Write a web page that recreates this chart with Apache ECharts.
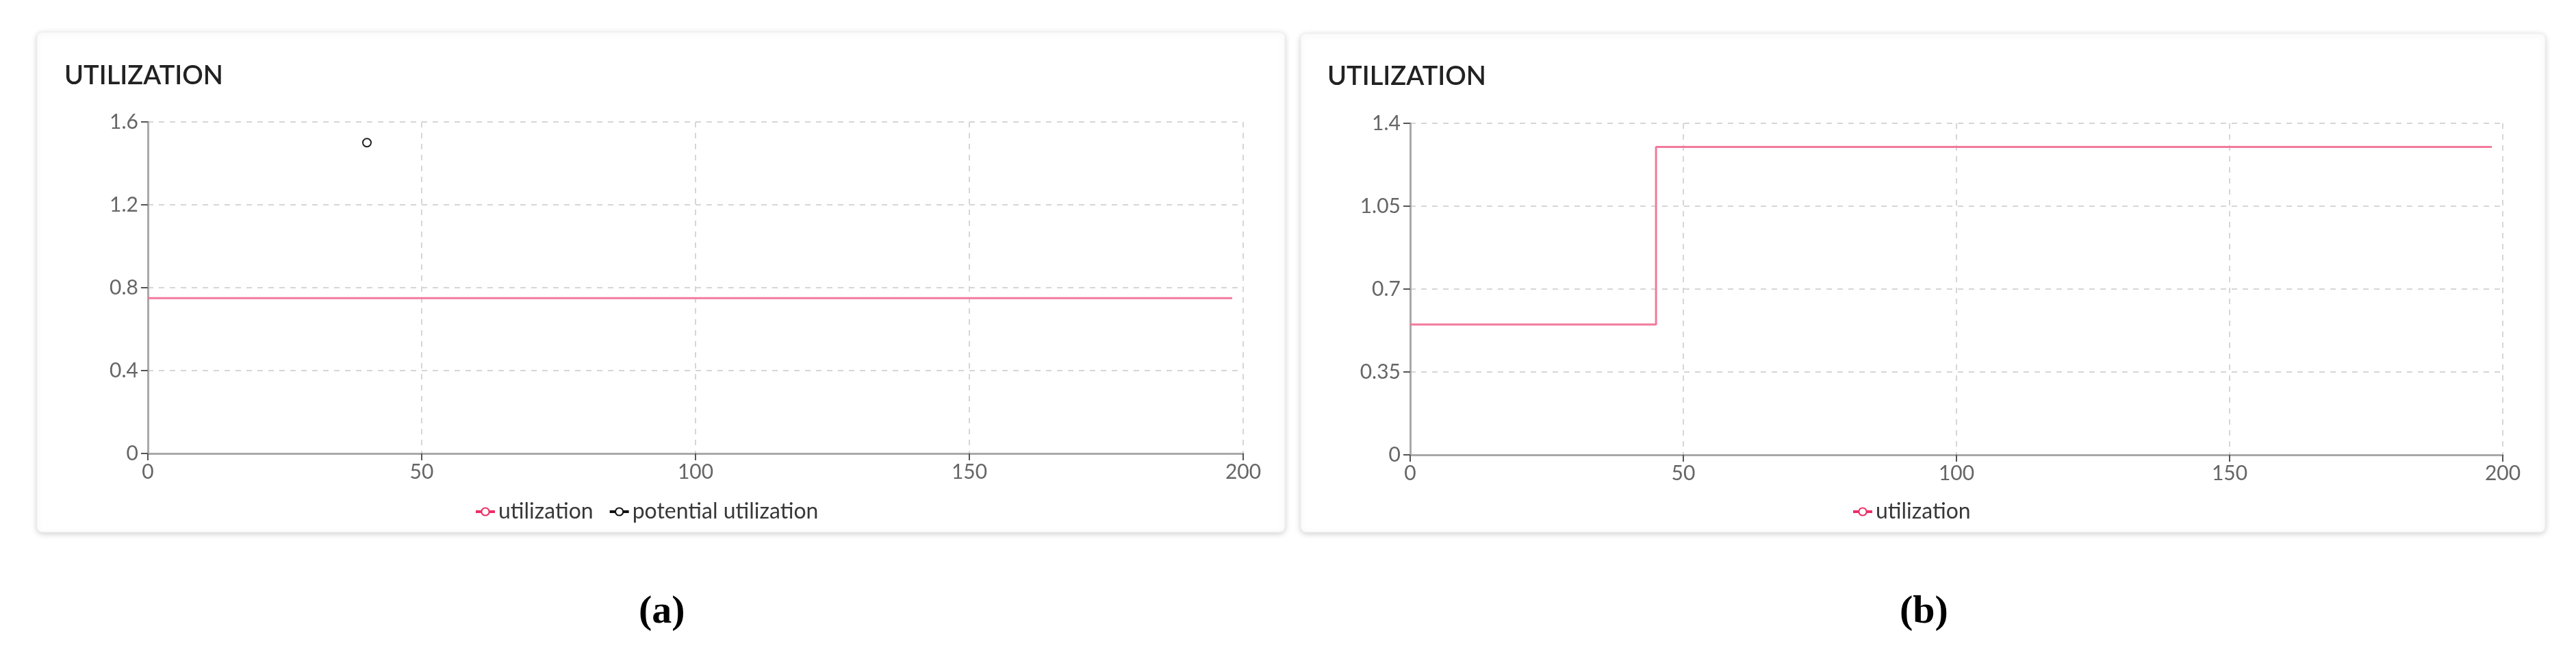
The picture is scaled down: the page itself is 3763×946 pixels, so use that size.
<!DOCTYPE html>
<html>
<head>
<meta charset="utf-8">
<script src="https://cdn.jsdelivr.net/npm/echarts@6/dist/echarts.min.js"></script>
<style>
html,body{margin:0;padding:0;background:#fff;}
#main{width:3763px;height:946px;}
</style>
</head>
<body>
<div id="main"></div>
<script>
// ---- data ----
const titles = ['UTILIZATION', 'UTILIZATION'];
const captions = ['a', 'b'];
const xTicks = [0, 50, 100, 150, 200];
const yTicksA = [0, 0.4, 0.8, 1.2, 1.6];
const yTicksB = [0, 0.35, 0.7, 1.05, 1.4];
// chart (a)
const utilA = [[0, 0.75], [198, 0.75]];
const potentialA = [[40, 1.5]];
// chart (b)
const utilB = [[0, 0.55], [45, 1.3], [198, 1.3]];

const PINK = '#ec2f66';
const LINE_PINK = '#f27a9c';
const FONT = 'Lato';
const chart = echarts.init(document.getElementById('main'), null, {renderer: 'canvas'});

function xAxis(gi) {
  return {
    type: 'value', gridIndex: gi, min: xTicks[0], max: xTicks[xTicks.length - 1], interval: 50,
    axisLine: {lineStyle: {color: '#a9a9a9', width: 3}},
    axisTick: {length: 10, lineStyle: {color: '#555', width: 2}},
    axisLabel: {color: '#666', fontFamily: FONT, fontSize: 30, margin: 12},
    splitLine: {show: true, lineStyle: {color: '#d6d6d6', type: [8, 8], width: 2}}
  };
}
function yAxis(gi, ticks) {
  return {
    type: 'value', gridIndex: gi, min: ticks[0], max: ticks[ticks.length - 1],
    interval: ticks[1] - ticks[0],
    axisLine: {show: true, lineStyle: {color: '#a9a9a9', width: 3}},
    axisTick: {show: true, length: 10, lineStyle: {color: '#555', width: 2}},
    axisLabel: {color: '#666', fontFamily: FONT, fontSize: 30, margin: 14},
    splitLine: {show: true, lineStyle: {color: '#d6d6d6', type: [8, 8], width: 2}}
  };
}
function card(x, y, w, h) {
  return {
    type: 'rect', z: -10, shape: {x: x, y: y, width: w, height: h, r: 8},
    style: {fill: '#fff', stroke: '#efefef', lineWidth: 1, shadowBlur: 8, shadowOffsetY: 2, shadowColor: 'rgba(0,0,0,0.18)'}
  };
}
const capRich = {
  p: {fontFamily: 'Liberation Serif', fontSize: 58, color: '#000'},
  b: {fontFamily: 'Liberation Serif', fontSize: 58, fontWeight: 'bold', color: '#000'}
};
const legendText = {fontFamily: FONT, fontSize: 32, color: '#383838'};
const pinkLegend = {itemStyle: {color: PINK, borderColor: PINK, borderWidth: 3}, lineStyle: {color: PINK, width: 4}};
const blackLegend = {itemStyle: {color: '#111', borderColor: '#111', borderWidth: 3}, lineStyle: {color: '#111', width: 4}};

chart.setOption({
  animation: false,
  backgroundColor: '#fff',
  graphic: [card(54, 47, 1823, 730), card(1900, 49, 1818, 728)],
  title: [
    {text: titles[0], left: 89, top: 87, textStyle: {fontFamily: FONT, fontSize: 38, fontWeight: 600, color: '#222'}},
    {text: titles[1], left: 1934, top: 88, textStyle: {fontFamily: FONT, fontSize: 38, fontWeight: 600, color: '#222'}},
    {text: '{p|(}{b|' + captions[0] + '}{p|)}', left: 928, top: 860, textStyle: {rich: capRich}},
    {text: '{p|(}{b|' + captions[1] + '}{p|)}', left: 2770, top: 860, textStyle: {rich: capRich}}
  ],
  legend: [
    {data: [Object.assign({name: 'utilization'}, pinkLegend), Object.assign({name: 'potential utilization'}, blackLegend)],
     left: 688, top: 726, itemWidth: 28, itemHeight: 14, itemGap: 22, textStyle: legendText},
    {data: [Object.assign({name: 'utilization b'}, pinkLegend)], left: 2700, top: 726, itemWidth: 28, itemHeight: 14,
     formatter: () => 'utilization', textStyle: legendText}
  ],
  grid: [
    {left: 216, top: 178, width: 1600, height: 484},
    {left: 2060, top: 180, width: 1596, height: 484}
  ],
  xAxis: [xAxis(0), xAxis(1)],
  yAxis: [yAxis(0, yTicksA), yAxis(1, yTicksB)],
  series: [
    {name: 'utilization', type: 'line', xAxisIndex: 0, yAxisIndex: 0, data: utilA, step: 'end',
     showSymbol: false, symbol: 'emptyCircle', symbolSize: 10, color: PINK, lineStyle: {width: 3, color: LINE_PINK}},
    {name: 'potential utilization', type: 'line', xAxisIndex: 0, yAxisIndex: 0, data: potentialA,
     symbol: 'emptyCircle', symbolSize: 12, color: '#222', itemStyle: {borderWidth: 2}, lineStyle: {width: 2}},
    {name: 'utilization b', type: 'line', xAxisIndex: 1, yAxisIndex: 1, data: utilB, step: 'end',
     showSymbol: false, symbol: 'emptyCircle', symbolSize: 10, color: PINK, lineStyle: {width: 3, color: LINE_PINK}}
  ]
});
</script>
</body>
</html>
